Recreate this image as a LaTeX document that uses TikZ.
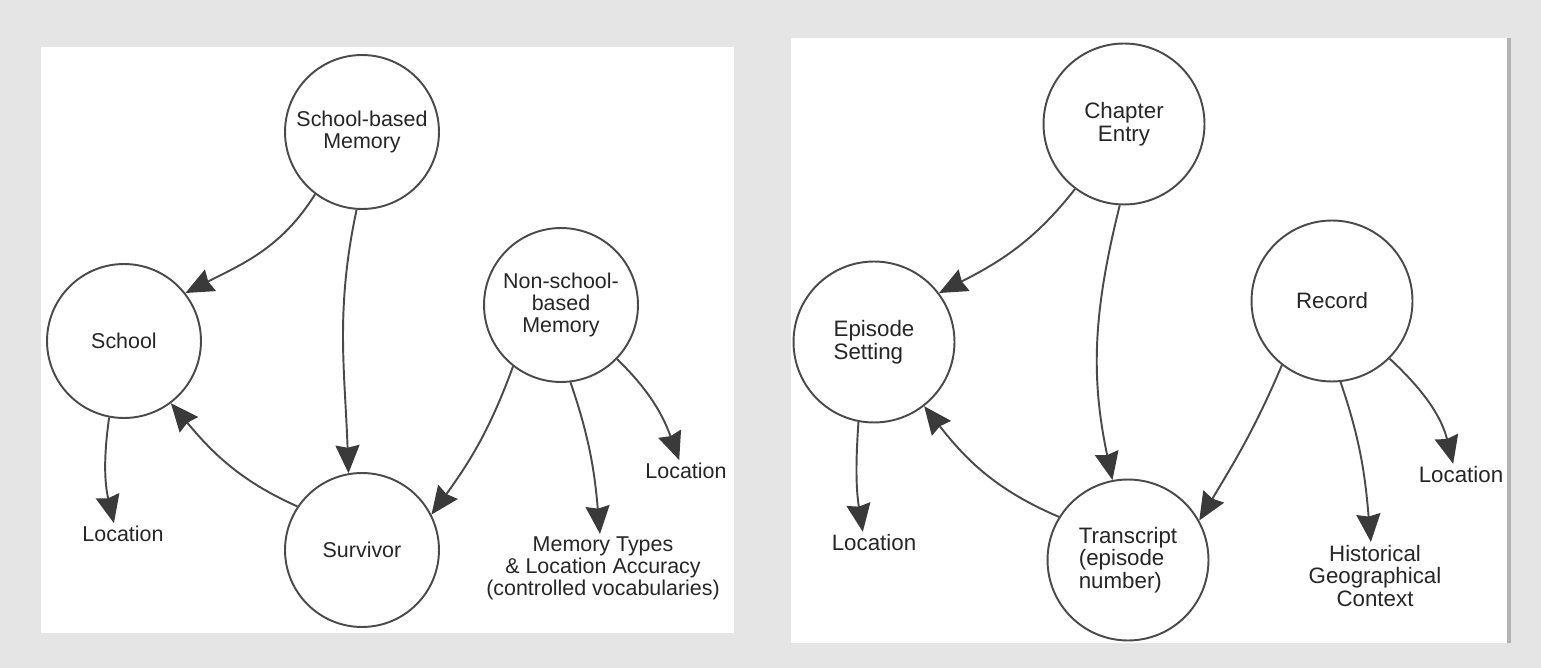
\documentclass[tikz,border=0pt]{standalone}
\usepackage{fontspec}
\setmainfont{Liberation Sans}
\usetikzlibrary{arrows.meta}

\definecolor{bggray}{HTML}{E6E5E6}
\definecolor{linegray}{HTML}{4A4A4A}
\definecolor{tipgray}{HTML}{3A3A3A}
\definecolor{textgray}{HTML}{262626}
\definecolor{edgegray}{HTML}{B3B3B3}

\begin{document}
\begin{tikzpicture}[x=0.02cm, y=-0.02cm,
    entity/.style={circle, draw=linegray, line width=1.1pt, fill=white, text=textgray,
        minimum size=3.08cm, inner sep=0pt, align=center, font=\fontsize{12.2}{12.4}\selectfont},
    bigentity/.style={entity, minimum size=3.22cm, font=\fontsize{12.7}{12.9}\selectfont},
    attr/.style={text=textgray, inner sep=1.5pt, align=center, font=\fontsize{12.2}{12.4}\selectfont},
    bigattr/.style={attr, font=\fontsize{12.7}{12.9}\selectfont},
    rel/.style={draw=linegray, line width=1.1pt,
        -{Stealth[length=0.56cm, width=0.48cm, inset=0.05cm, color=tipgray]}}]

    % Background and panels
    \fill[bggray] ({0}, {0}) rectangle ({1541}, {668});
    \fill[white] ({41}, {47}) rectangle ({734}, {633});
    \fill[white] ({791}, {38}) rectangle ({1507}, {643});
    \fill[edgegray] ({1507}, {38}) rectangle ({1511}, {643});

    % Left panel
    \node[entity] (sbm) at ({362}, {132}) {School-based\\Memory};
    \node[entity] (school) at ({124}, {341}) {School};
    \node[entity] (nsbm) at ({561}, {305}) {Non-school-\\based\\Memory};
    \node[entity] (survivor) at ({362}, {550}) {Survivor};
    \node[attr] (locl) at ({123}, {534}) {Location};
    \node[attr] (locr) at ({686}, {471}) {Location};
    \node[attr, anchor=north] (types) at ({603}, {534}) {Memory Types\\\& Location Accuracy\\(controlled vocabularies)};

    \draw[rel] (sbm.233) to[out=238, in=27] (school.38);
    \draw[rel] (sbm.266) to[out=258, in=92] (survivor.100);
    \draw[rel] (survivor.146) to[out=156, in=-50] (school.307);
    \draw[rel] (school.259) to[out=262, in=103] (locl.130);
    \draw[rel] (nsbm.232) to[out=250, in=54] (survivor.27);
    \draw[rel] (nsbm.277) to[out=289, in=95] (types.95);
    \draw[rel] (nsbm.316) to[out=316, in=110] (locr.122);

    % Right panel
    \node[bigentity] (chapter) at ({1124}, {124}) {Chapter\\Entry};
    \node[bigentity, align=left] (setting) at ({874}, {342}) {Episode\\Setting};
    \node[bigentity] (record) at ({1332}, {301}) {Record};
    \node[bigentity, align=left] (transcript) at ({1128}, {560}) {Transcript\\(episode\\number)};
    \node[bigattr] (locl2) at ({874}, {543}) {Location};
    \node[bigattr] (locr2) at ({1461}, {475}) {Location};
    \node[bigattr, anchor=north] (context) at ({1375}, {542}) {Historical\\Geographical\\Context};

    \draw[rel] (chapter.233) to[out=232, in=27] (setting.37);
    \draw[rel] (chapter.267) to[out=256, in=102] (transcript.101);
    \draw[rel] (transcript.148) to[out=157, in=-52] (setting.308);
    \draw[rel] (setting.259) to[out=266, in=99] (locl2.135);
    \draw[rel] (record.232) to[out=247, in=59] (transcript.29);
    \draw[rel] (record.276) to[out=289, in=95] (context.97);
    \draw[rel] (record.315) to[out=317, in=104] (locr2.125);
\end{tikzpicture}
\end{document}
